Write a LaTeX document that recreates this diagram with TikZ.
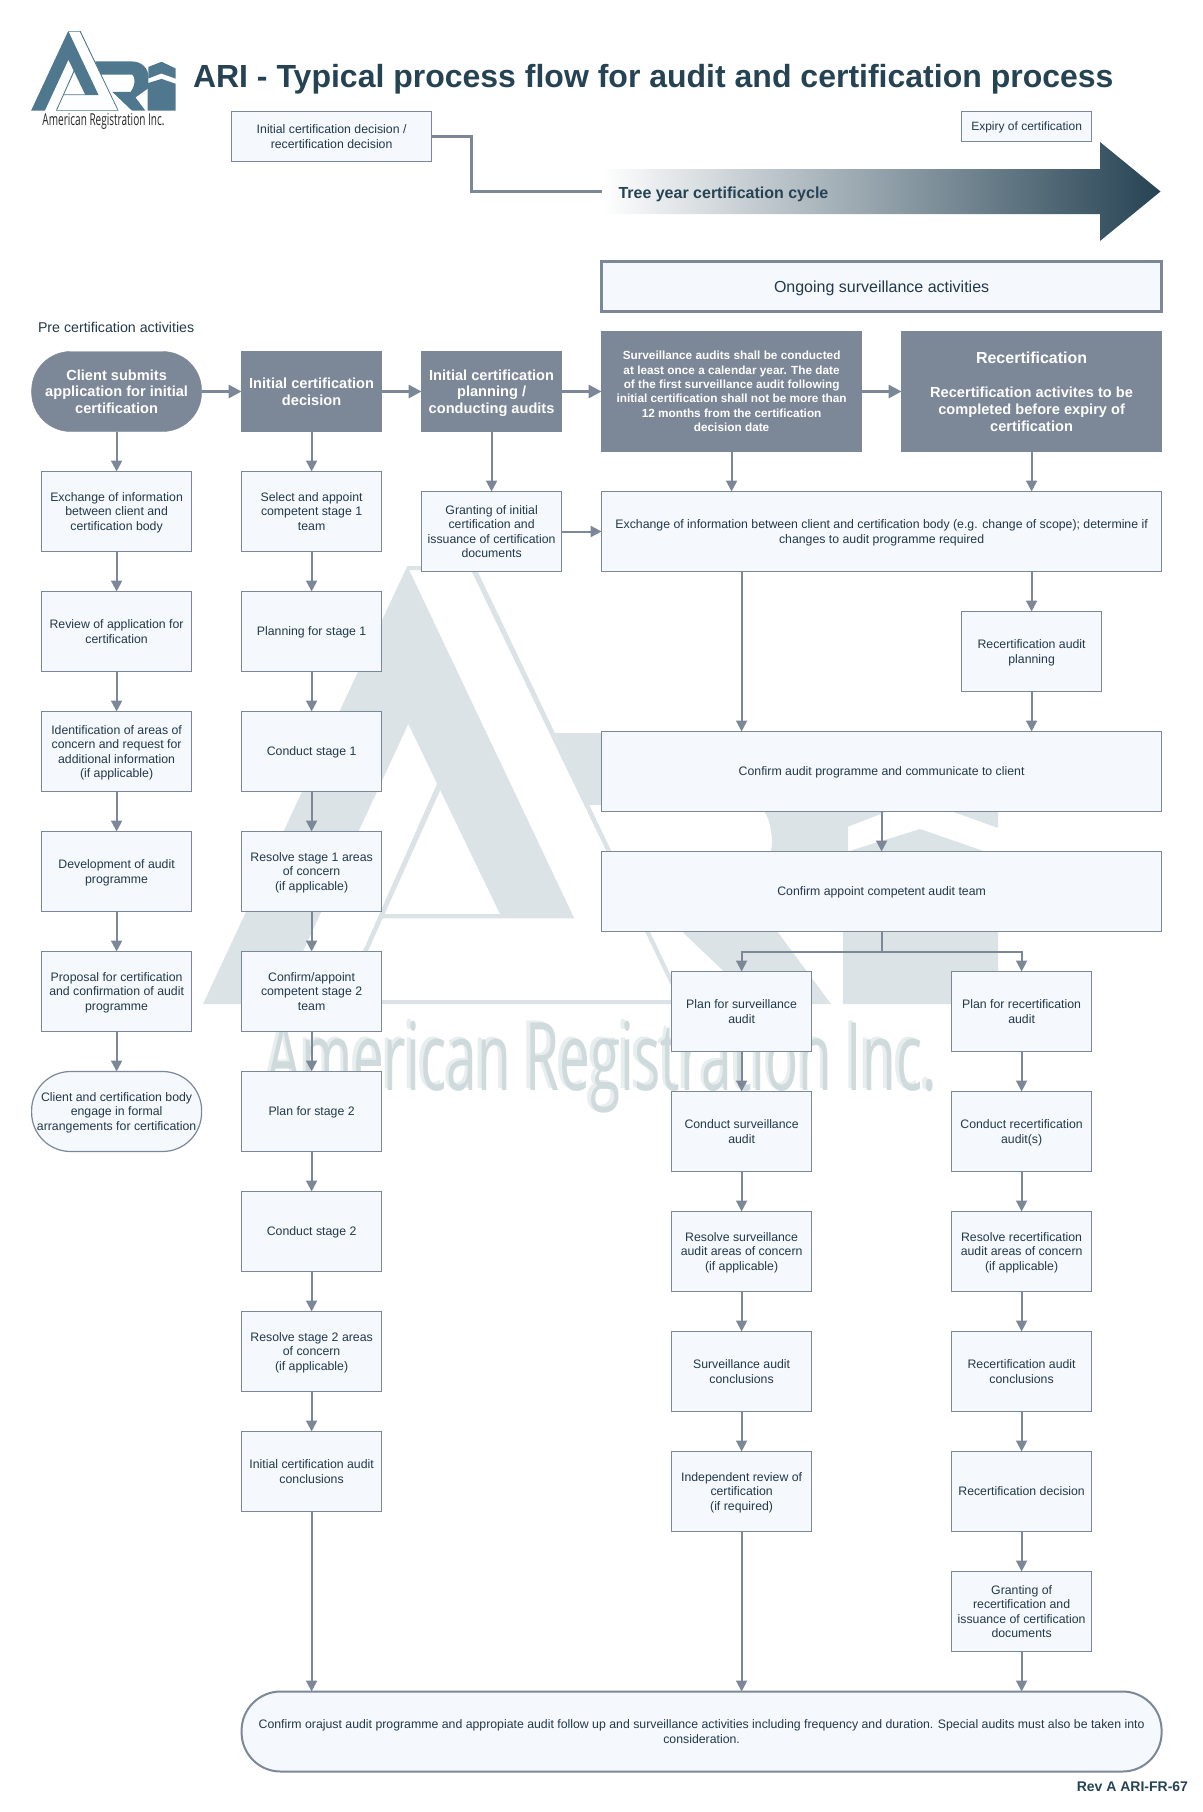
\documentclass[tikz,border=0pt]{standalone}
\usepackage{graphicx}
\usepackage{fontspec}
\usepackage{tikz}
\usetikzlibrary{positioning,arrows.meta}
\setmainfont{Liberation Sans}
\newfontfamily\logofont{Open Sans}
\definecolor{boxfill}{HTML}{F5F8FD}
\definecolor{boxline}{HTML}{7C8798}
\definecolor{inktext}{HTML}{22394A}
\definecolor{deepink}{HTML}{264354}
\definecolor{logoblue}{HTML}{4F788E}
\definecolor{markgrey}{HTML}{DCE3E7}
\definecolor{markword}{HTML}{CFDADC}
\definecolor{markhalo}{HTML}{E8EDEE}
\newcommand{\arimark}[1]{
	\fill [#1] (203,-1004) -- (407.3,-566) -- (574.3,-918.3) -- (380,-918.3) -- (381.7,-914) -- (500,-914) -- (408.3,-724) -- (278.6,-1004) -- cycle;
	\fill [#1] (407,-566) -- (475,-566) -- (684.5,-1004) -- (339.5,-1004) -- (437.3,-783.3) -- (440.3,-790) -- (346,-1000) -- (678,-1000) -- (471,-570) -- (409,-570) -- cycle;
	\fill [#1] (555,-733) -- (756,-733) .. controls (810,-733) and (848,-770) .. (848,-818) -- (848,-880) -- (777,-931) -- (831,-1004) -- (758,-1004) -- (650,-901) -- (750,-901) .. controls (765,-880) and (775,-850) .. (771,-832) .. controls (770,-820) and (765,-810) .. (758,-805) -- (587,-805) -- cycle;
	\fill [#1] (848,-763) -- (920,-735) -- (998,-772) -- (998,-828) -- (918.5,-799.3) -- (848,-826.7) -- cycle;
	\fill [#1] (843,-1004) -- (843,-853) -- (920,-829) -- (998,-856) -- (998,-1004) -- cycle;
}

\begin{document}
\begin{tikzpicture}
[x=1pt,y=1pt,node distance=40pt]
\tikzset{
	plaintext/.style = {inner sep=0,outer sep=0,align=center,text=inktext,text depth=0pt,font=\fontsize{12.3}{14.5}\selectfont},
	stepbox/.style = {plaintext,draw=boxline,fill=boxfill,line width=1.2pt,minimum width=140pt,minimum height=80pt},
	widebox/.style = {stepbox,minimum width=150pt},
	spanbox/.style = {stepbox,minimum width=560pt},
	endbox/.style = {stepbox,rounded corners=39pt},
	headbox/.style = {plaintext,draw=boxline,fill=boxline,text=white,font=\fontsize{14.6}{16.6}\selectfont\bfseries,minimum width=140pt,minimum height=80pt},
	notebox/.style = {headbox,minimum width=260pt,minimum height=120pt},
	flow/.style = {draw=boxline,line width=2pt,-{Triangle[length=11pt,width=11pt]}},
	headflow/.style = {draw=boxline,line width=3pt,-{Triangle[length=13pt,width=13pt]}}
}

\useasboundingbox (0,0) rectangle (1202,-1812);

\arimark{markgrey}
\node (markhaloword) [inner sep=0,text=markhalo,font=\logofont] at (598.5,-1065) {\resizebox*{670pt}{92pt}{American Registration Inc.}};
\node (markword) [inner sep=0,text=markword,font=\logofont] at (602,-1067) {\resizebox*{670pt}{92pt}{American Registration Inc.}};

\begin{scope}[shift={(-5.9,72)},scale=0.182]
	\arimark{logoblue}
\end{scope}
\node (logoword) [inner sep=0,text=black!85,font=\logofont] at (103.5,-121) {\resizebox*{122pt}{16pt}{American Registration Inc.}};

\node (title) [plaintext,anchor=west,text=deepink,font=\fontsize{32}{38}\selectfont\bfseries] at (193,-76) {ARI - Typical process flow for audit and certification process};
\node (decision) [stepbox,minimum width=200pt,minimum height=50pt] at (331.6,-136.5) {Initial certification decision /\\recertification decision};
\node (expiry) [stepbox,font=\fontsize{12}{14.5}\selectfont,minimum width=130pt,minimum height=30pt] at (1026.6,-126.5) {Expiry of certification};
\coordinate (cyclestart) at (601.6,-191.5);
\shade [left color=white,right color=deepink,middle color=deepink!50] (601.6,-169) -- (1100,-169) -- (1100,-142) -- (1160.5,-191.5) -- (1100,-241) -- (1100,-214) -- (601.6,-214) -- cycle;
\node (cycle) [plaintext,anchor=west,text=deepink,font=\fontsize{16}{19}\selectfont\bfseries] at (618.5,-193) {Tree year certification cycle};
\node (ongoing) [stepbox,line width=2.5pt,minimum width=560pt,minimum height=50pt,font=\fontsize{16}{19}\selectfont] at (881.6,-286.5) {Ongoing surveillance activities};
\node (precert) [plaintext,anchor=west,font=\fontsize{14.2}{17}\selectfont] at (38,-327) {Pre certification activities};

\node (client) [headbox,rounded corners=39pt,minimum width=170pt] at (116.6,-391.5) {Client submits\\application for initial\\certification};
\node (infoclient) [widebox,below=of client] {Exchange of information\\between client and\\certification body};
\node (reviewapp) [widebox,below=of infoclient] {Review of application for\\certification};
\node (concern) [widebox,below=of reviewapp] {Identification of areas of\\concern and request for\\additional information\\(if applicable)};
\node (develop) [widebox,below=of concern] {Development of audit\\programme};
\node (proposal) [widebox,below=of develop] {Proposal for certification\\and confirmation of audit\\programme};
\node (engage) [endbox,minimum width=170pt,below=of proposal] {Client and certification body\\engage in formal\\arrangements for certification};

\node (initdec) [headbox] at (311.6,-391.5) {Initial certification\\decision};
\node (teamone) [stepbox,below=of initdec] {Select and appoint\\competent stage 1\\team};
\node (planone) [stepbox,below=of teamone] {Planning for stage 1};
\node (doone) [stepbox,below=of planone] {Conduct stage 1};
\node (fixone) [stepbox,below=of doone] {Resolve stage 1 areas\\of concern\\(if applicable)};
\node (teamtwo) [stepbox,below=of fixone] {Confirm/appoint\\competent stage 2\\team};
\node (plantwo) [stepbox,below=of teamtwo] {Plan for stage 2};
\node (dotwo) [stepbox,below=of plantwo] {Conduct stage 2};
\node (fixtwo) [stepbox,below=of dotwo] {Resolve stage 2 areas\\of concern\\(if applicable)};
\node (initend) [stepbox,below=of fixtwo] {Initial certification audit\\conclusions};

\node (initplan) [headbox] at (491.6,-391.5) {Initial certification\\planning /\\conducting audits};
\node (granting) [stepbox] at (491.6,-531.5) {Granting of initial\\certification and\\issuance of certification\\documents};

\node (survey) [notebox,font=\fontsize{11.8}{14.4}\selectfont\bfseries] at (731.6,-391.5) {Surveillance audits shall be conducted\\at least once a calendar year. The date\\of the first surveillance audit following\\initial certification shall not be more than\\12 months from the certification\\decision date};
\node (recert) [notebox,text depth=-4pt,font=\fontsize{14.6}{17}\selectfont\bfseries] at (1031.6,-391.5) {{\fontsize{16}{19}\selectfont Recertification}\\[17pt]Recertification activites to be\\completed before expiry of\\certification};
\node (exchange) [spanbox] at (881.6,-531.5) {Exchange of information between client and certification body (e.g. change of scope); determine if\\changes to audit programme required};
\node (recplan) [stepbox] at (1031.6,-651.5) {Recertification audit\\planning};
\node (confirmplan) [spanbox] at (881.6,-771.5) {Confirm audit programme and communicate to client};
\node (confirmteam) [spanbox,below=of confirmplan] {Confirm appoint competent audit team};

\node (survplan) [stepbox] at (741.6,-1011.5) {Plan for surveillance\\audit};
\node (survdo) [stepbox,below=of survplan] {Conduct surveillance\\audit};
\node (survfix) [stepbox,below=of survdo] {Resolve surveillance\\audit areas of concern\\(if applicable)};
\node (survend) [stepbox,below=of survfix] {Surveillance audit\\conclusions};
\node (survreview) [stepbox,below=of survend] {Independent review of\\certification\\(if required)};

\node (recertplan) [stepbox] at (1021.6,-1011.5) {Plan for recertification\\audit};
\node (recertdo) [stepbox,below=of recertplan] {Conduct recertification\\audit(s)};
\node (recertfix) [stepbox,below=of recertdo] {Resolve recertification\\audit areas of concern\\(if applicable)};
\node (recertend) [stepbox,below=of recertfix] {Recertification audit\\conclusions};
\node (recertdec) [stepbox,below=of recertend] {Recertification decision};
\node (recertgrant) [stepbox,below=of recertdec] {Granting of\\recertification and\\issuance of certification\\documents};

\node (closing) [endbox,line width=2pt,minimum width=920pt] at (701.6,-1731.5) {Confirm orajust audit programme and appropiate audit follow up and surveillance activities including frequency and duration. Special audits must also be taken into\\consideration.};
\node (revision) [plaintext,anchor=east,text=deepink,font=\fontsize{14}{16}\selectfont\bfseries] at (1188,-1787) {Rev A ARI-FR-67};

\draw [draw=boxline,line width=3pt] (decision.east) -- ++(40,0) |- (cyclestart);

\draw [headflow] (client) -- (initdec);
\draw [headflow] (initdec) -- (initplan);
\draw [headflow] (initplan) -- (survey);
\draw [headflow] (survey) -- (recert);

\draw [flow] (client) -- (infoclient);
\draw [flow] (infoclient) -- (reviewapp);
\draw [flow] (reviewapp) -- (concern);
\draw [flow] (concern) -- (develop);
\draw [flow] (develop) -- (proposal);
\draw [flow] (proposal) -- (engage);

\draw [flow] (initdec) -- (teamone);
\draw [flow] (teamone) -- (planone);
\draw [flow] (planone) -- (doone);
\draw [flow] (doone) -- (fixone);
\draw [flow] (fixone) -- (teamtwo);
\draw [flow] (teamtwo) -- (plantwo);
\draw [flow] (plantwo) -- (dotwo);
\draw [flow] (dotwo) -- (fixtwo);
\draw [flow] (fixtwo) -- (initend);
\draw [flow] (initend) -- (initend |- closing.north);

\draw [flow] (initplan) -- (granting);
\draw [flow] (granting) -- (exchange);
\draw [flow] (survey) -- (survey |- exchange.north);
\draw [flow] (recert) -- (recert |- exchange.north);
\draw [flow] (exchange.south -| survplan) -- (confirmplan.north -| survplan);
\draw [flow] (recplan |- exchange.south) -- (recplan);
\draw [flow] (recplan) -- (recplan |- confirmplan.north);
\draw [flow] (confirmplan) -- (confirmteam);
\draw [flow] (confirmteam) -- ++(0,-60) -| (survplan);
\draw [flow] (confirmteam) -- ++(0,-60) -| (recertplan);

\draw [flow] (survplan) -- (survdo);
\draw [flow] (survdo) -- (survfix);
\draw [flow] (survfix) -- (survend);
\draw [flow] (survend) -- (survreview);
\draw [flow] (survreview) -- (survreview |- closing.north);

\draw [flow] (recertplan) -- (recertdo);
\draw [flow] (recertdo) -- (recertfix);
\draw [flow] (recertfix) -- (recertend);
\draw [flow] (recertend) -- (recertdec);
\draw [flow] (recertdec) -- (recertgrant);
\draw [flow] (recertgrant) -- (recertgrant |- closing.north);
\end{tikzpicture}
\end{document}
